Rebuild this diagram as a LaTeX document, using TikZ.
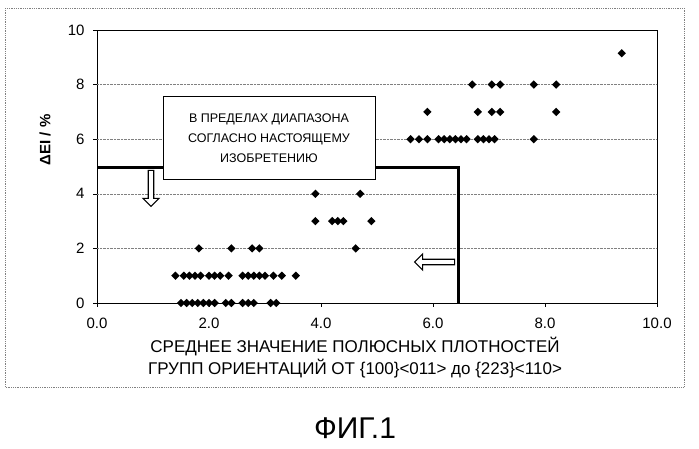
\documentclass[tikz,border=0pt]{standalone}
\usepackage{fontspec}
\setmainfont{Liberation Sans}
\usetikzlibrary{shapes.arrows, shapes.geometric}
\tikzset{
  pt/.style={fill=black, diamond, inner sep=0pt, minimum size=8.5pt},
  hollow/.style={single arrow, draw, fill=white, line width=1.2pt, minimum height=36pt,
    minimum width=16pt, single arrow head extend=3pt, inner sep=1pt}
}
\begin{document}
\begin{tikzpicture}[x=1pt, y=-1pt]
  \useasboundingbox (0,0) rectangle (699,448);
  % frame
  \draw[gray, densely dotted, line width=0.8pt] (5,8) rectangle (684,387);
  \draw[line width=0.8pt] (97,30) rectangle (657,303);
  \foreach \v in {2,4,...,8}
    \draw[gray, densely dotted] (97,{303-27.3*\v}) -- (657,{303-27.3*\v});
  \foreach \v in {0,2,...,10} {
    \draw (93,{303-27.3*\v}) -- (97,{303-27.3*\v});
    \node[anchor=east, font=\fontsize{15}{15}\selectfont] (yl\v) at (88,{303-27.3*\v}) {\v};
  }
  \foreach \v in {0,2,...,10} {
    \draw ({97+56*\v},303) -- ({97+56*\v},307);
    \node[font=\fontsize{15}{15}\selectfont] (xl\v) at ({97+56*\v},323) {\v.0};
  }
  \node[rotate=90, font=\bfseries\fontsize{15}{15}\selectfont] (ylab) at (45,140) {ΔEI / \%};
  \node[align=center, font=\fontsize{17}{22}\selectfont] (xlab) at (355,358)
    {СРЕДНЕЕ ЗНАЧЕНИЕ ПОЛЮСНЫХ ПЛОТНОСТЕЙ\\ГРУПП ОРИЕНТАЦИЙ ОТ \{100\}<011> до \{223\}<110>};
  \node[font=\fontsize{30}{30}\selectfont] (fig) at (355,428) {ФИГ.1};
  % data
  \foreach \px/\py in {1.5/0,1.6/0,1.7/0,1.8/0,1.9/0,2.0/0,2.1/0,2.3/0,2.4/0,2.6/0,2.7/0,2.8/0,3.1/0,3.2/0,
    1.4/1,1.55/1,1.65/1,1.75/1,1.85/1,2.0/1,2.1/1,2.2/1,2.35/1,2.6/1,2.7/1,2.8/1,2.9/1,3.0/1,3.15/1,3.3/1,3.55/1,
    1.82/2,2.4/2,2.77/2,2.9/2,4.62/2,3.9/3,4.2/3,4.3/3,4.4/3,4.9/3,3.9/4,4.7/4,
    5.6/6,5.75/6,5.9/6,6.1/6,6.2/6,6.3/6,6.4/6,6.5/6,6.6/6,6.8/6,6.9/6,7.0/6,7.1/6,7.8/6,
    5.9/7,6.8/7,7.05/7,7.2/7,8.2/7,6.7/8,7.05/8,7.2/8,7.8/8,8.2/8,9.37/9.15}
    \node[pt] at ({97+56*\px},{303-27.3*\py}) {};
  % range
  \coordinate (l0) at (97,167);
  \coordinate (l1) at (458,167);
  \coordinate (l2) at (458,303);
  \draw[line width=3pt] (l0) -- (l1) -- (l2);
  \node[draw, fill=white, align=center, minimum width=212pt, minimum height=83pt,
    font=\fontsize{12.5}{20}\selectfont] (box) at (269,138)
    {В ПРЕДЕЛАХ ДИАПАЗОНА\\СОГЛАСНО НАСТОЯЩЕМУ\\ИЗОБРЕТЕНИЮ};
  \node[hollow, rotate=-90] (adown) at (151,187) {};
  \node[hollow, rotate=180, minimum height=40pt] (aleft) at (436,262) {};
\end{tikzpicture}
\end{document}
